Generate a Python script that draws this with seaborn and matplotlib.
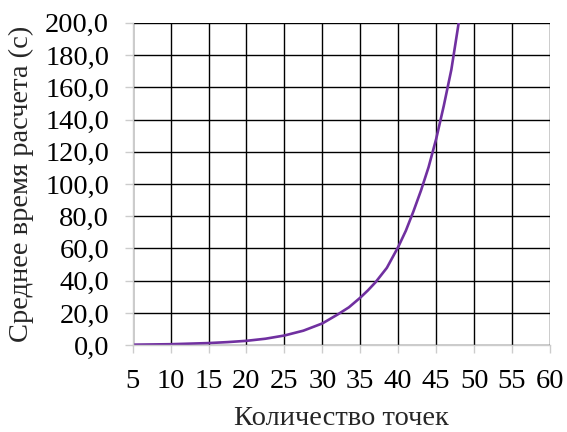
import matplotlib
matplotlib.use("Agg")
import matplotlib.pyplot as plt
import seaborn as sns
import pandas as pd
from matplotlib.ticker import FuncFormatter

# Data
points = [5, 10, 15, 17.5, 20, 22.5, 25, 27.5, 30, 32, 33.5, 35, 36, 37, 38.5, 40, 41, 42, 43, 44, 45, 46, 47, 48, 50]
times = [0.3, 0.6, 1.3, 1.9, 2.7, 4.0, 6.0, 9.0, 13.5, 19.0, 23.5, 29.5, 34, 39, 48, 61, 71, 83, 96, 110.5, 128, 148.5, 171, 201, 270]
x_ticks = [5, 10, 15, 20, 25, 30, 35, 40, 45, 50, 55, 60]
y_ticks = [0, 20, 40, 60, 80, 100, 120, 140, 160, 180, 200]

sns.set_style("white")
plt.rcParams['font.family'] = ['Liberation Serif', 'DejaVu Serif']

df = pd.DataFrame({"x": points, "y": times})

fig = plt.figure(figsize=(5.67, 4.32), dpi=100)
ax = fig.add_axes([0.234, 0.201, 0.736, 0.746])

sns.lineplot(data=df, x="x", y="y", ax=ax, color="#7030A0", linewidth=1.9, zorder=3)

ax.set_xlim(5, 60)
ax.set_ylim(0, 200)
ax.set_xticks(x_ticks)
ax.set_yticks(y_ticks)
ax.xaxis.set_major_formatter(FuncFormatter(lambda v, p: f"{int(v)}"))
ax.yaxis.set_major_formatter(FuncFormatter(lambda v, p: f"{v:.1f}".replace(".", ",")))

ax.grid(True, color="black", linewidth=1.0)
ax.set_axisbelow(True)

for s in ["top", "right"]:
    ax.spines[s].set_visible(False)
for s in ["left", "bottom"]:
    ax.spines[s].set_color("#cccccc")
    ax.spines[s].set_linewidth(1.0)
    ax.spines[s].set_zorder(4)

ax.tick_params(axis="both", which="major", length=6, width=1.0, color="#cccccc",
               labelsize=20.5, labelcolor="black", direction="out")
ax.tick_params(axis="x", pad=11)
ax.tick_params(axis="y", pad=11)
ax.tick_params(bottom=True, left=True)

ax.set_xlabel("Количество точек", fontsize=20.5, labelpad=9)
ax.set_ylabel("Среднее время расчета (с)", fontsize=20.5, labelpad=8)

fig.savefig("out.png", dpi=100)
